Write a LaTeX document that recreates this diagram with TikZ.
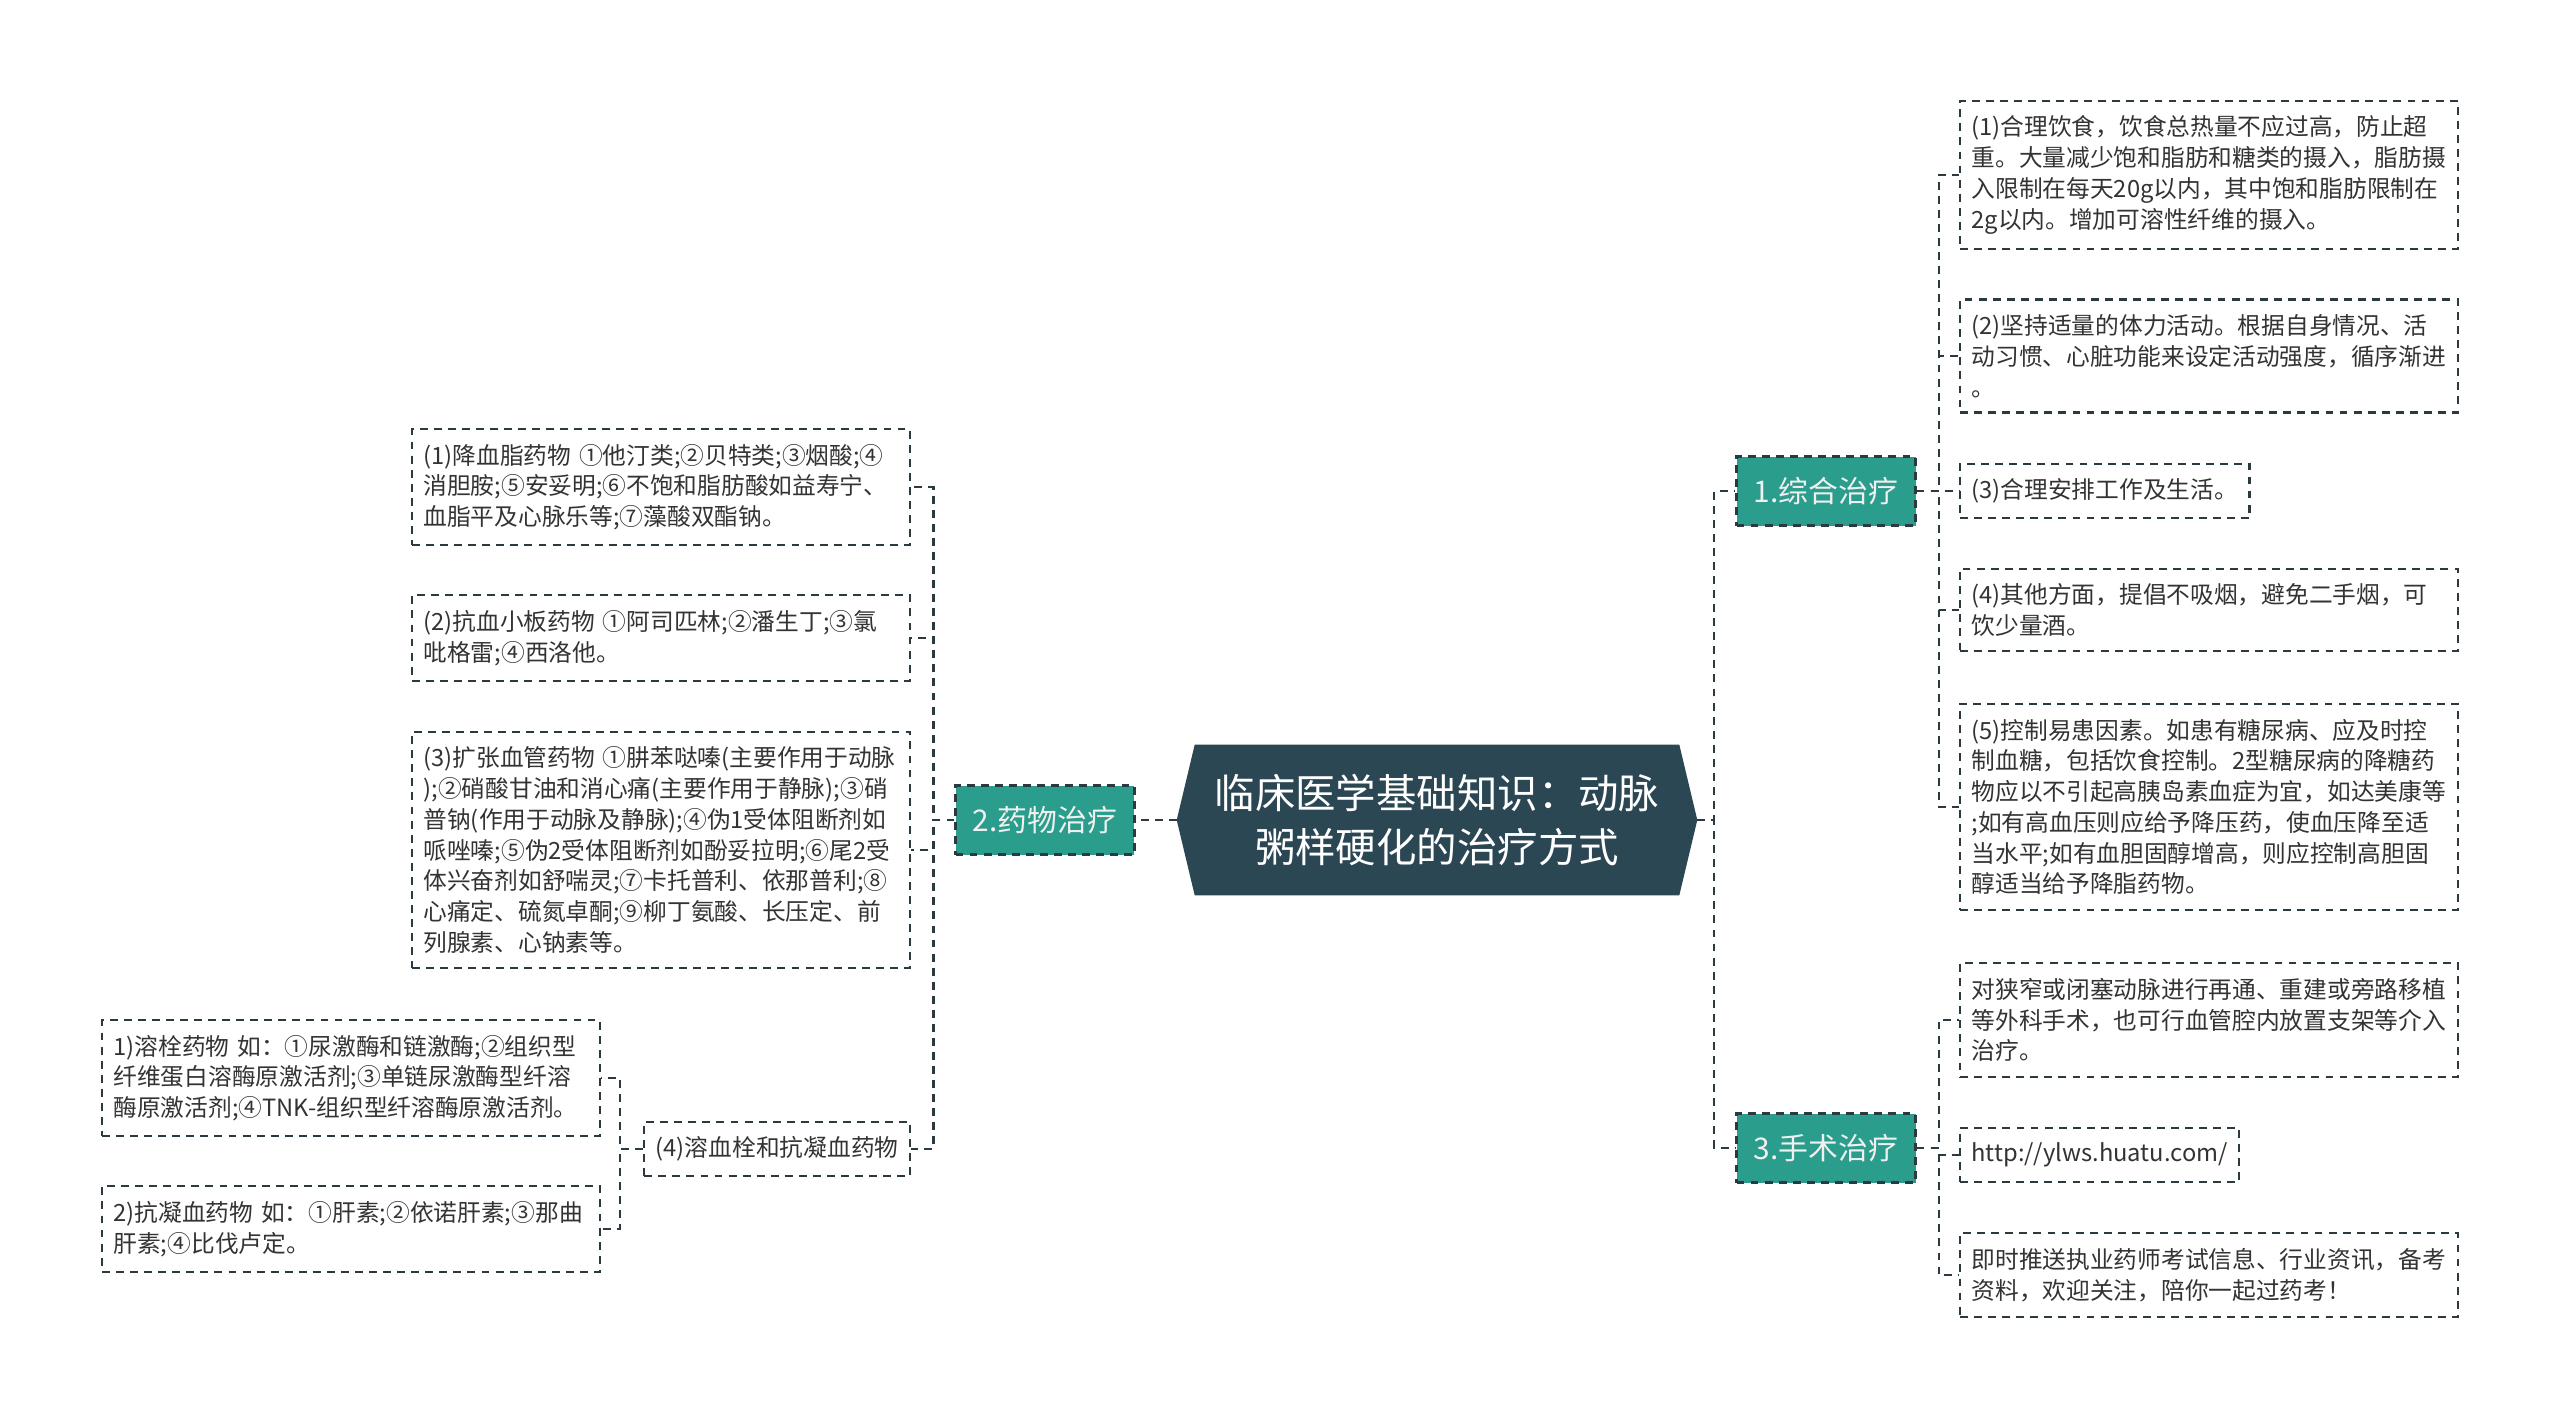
\documentclass[tikz,border=0pt]{standalone}
\usepackage{fontspec}
\setmainfont{Noto Sans CJK SC}
\usepackage{tikz}
\usetikzlibrary{backgrounds}
\definecolor{rootc}{HTML}{2B4753}
\definecolor{tealc}{HTML}{2A9D8C}
\definecolor{linec}{HTML}{2B3A40}
\definecolor{textc}{HTML}{333333}

\begin{document}
\begin{tikzpicture}[x=0.02cm,y=-0.02cm,
  link/.style={draw=linec,line width=1.2pt,dash pattern=on 4.5pt off 3.5pt},
  root/.style={text=white,align=center,font={\fontsize{23}{31}\selectfont},
    minimum width=10.4cm,minimum height=3cm},
  branch/.style={link,fill=tealc,text=white!94!black,font={\fontsize{17}{20}\selectfont},
    minimum width=3.58cm,minimum height=1.38cm},
  leaf/.style={link,fill=white,text=textc,align=left,font={\fontsize{13.5}{17.5}\selectfont},
    inner xsep=0.23cm,inner ysep=0.3cm},
  wide/.style={leaf,text width=9.5cm}]
          \useasboundingbox (0,0) rectangle (2560,1421);
          \node[root] (root) at (1437,820) {临床医学基础知识：动脉\\粥样硬化的治疗方式};
          \begin{scope}[on background layer]
          \fill[white] (0,0) rectangle (2560,1421);
          \fill[rootc] (root.west) -- ([xshift=.36cm]root.north west) -- ([xshift=-.36cm]root.north east)
          -- (root.east) -- ([xshift=-.36cm]root.south east) -- ([xshift=.36cm]root.south west) -- cycle;
          \end{scope}
          \node[branch] (n1) at (1826,491) {1.综合治疗};
          \node[branch] (n2) at (1045,820) {2.药物治疗};
          \node[branch] (n3) at (1826,1148) {3.手术治疗};
          \node[wide,anchor=west] (c1) at (1959,175) {(1)合理饮食，饮食总热量不应过高，防止超\\重。大量减少饱和脂肪和糖类的摄入，脂肪摄\\入限制在每天20g以内，其中饱和脂肪限制在\\2g以内。增加可溶性纤维的摄入。};
          \node[wide,anchor=west] (c2) at (1959,356) {(2)坚持适量的体力活动。根据自身情况、活\\动习惯、心脏功能来设定活动强度，循序渐进\\。};
          \node[leaf,anchor=west] (c3) at (1959,491) {(3)合理安排工作及生活。};
          \node[wide,anchor=west] (c4) at (1959,610) {(4)其他方面，提倡不吸烟，避免二手烟，可\\饮少量酒。};
          \node[wide,anchor=west] (c5) at (1959,807) {(5)控制易患因素。如患有糖尿病、应及时控\\制血糖，包括饮食控制。2型糖尿病的降糖药\\物应以不引起高胰岛素血症为宜，如达美康等\\;如有高血压则应给予降压药，使血压降至适\\当水平;如有血胆固醇增高，则应控制高胆固\\醇适当给予降脂药物。};
          \node[wide,anchor=west] (d1) at (1959,1020) {对狭窄或闭塞动脉进行再通、重建或旁路移植\\等外科手术，也可行血管腔内放置支架等介入\\治疗。};
          \node[leaf,anchor=west] (d2) at (1959,1155) {http://ylws.huatu.com/};
          \node[wide,anchor=west] (d3) at (1959,1275) {即时推送执业药师考试信息、行业资讯，备考\\资料，欢迎关注，陪你一起过药考！};
          \node[wide,anchor=east] (l1) at (911,487) {(1)降血脂药物 ①他汀类;②贝特类;③烟酸;④\\消胆胺;⑤安妥明;⑥不饱和脂肪酸如益寿宁、\\血脂平及心脉乐等;⑦藻酸双酯钠。};
          \node[wide,anchor=east] (l2) at (911,638) {(2)抗血小板药物 ①阿司匹林;②潘生丁;③氯\\吡格雷;④西洛他。};
          \node[wide,anchor=east] (l3) at (911,850) {(3)扩张血管药物 ①肼苯哒嗪(主要作用于动脉\\);②硝酸甘油和消心痛(主要作用于静脉);③硝\\普钠(作用于动脉及静脉);④伪1受体阻断剂如\\哌唑嗪;⑤伪2受体阻断剂如酚妥拉明;⑥尾2受\\体兴奋剂如舒喘灵;⑦卡托普利、依那普利;⑧\\心痛定、硫氮卓酮;⑨柳丁氨酸、长压定、前\\列腺素、心钠素等。};
          \node[leaf,anchor=east] (l4) at (911,1149) {(4)溶血栓和抗凝血药物};
          \node[wide,anchor=east] (m1) at (601,1078) {1)溶栓药物 如：①尿激酶和链激酶;②组织型\\纤维蛋白溶酶原激活剂;③单链尿激酶型纤溶\\酶原激活剂;④TNK-组织型纤溶酶原激活剂。};
          \node[wide,anchor=east] (m2) at (601,1229) {2)抗凝血药物 如：①肝素;②依诺肝素;③那曲\\肝素;④比伐卢定。};
          \draw[link] (root.west) -- (n2.east);
          \foreach \b in {n1,n3}{
          \draw[link] (root.east) -- ++(17,0) |- (\b.west);
          }
          \foreach \c in {c1,c2,c3,c4,c5}{
          \draw[link] (n1.east) -- ++(22,0) |- (\c.west);
          }
          \foreach \c in {d1,d2,d3}{
          \draw[link] (n3.east) -- ++(22,0) |- (\c.west);
          }
          \foreach \c in {l1,l2,l3,l4}{
          \draw[link] (n2.west) -- ++(-21,0) |- (\c.east);
          }
          \foreach \c in {m1,m2}{
          \draw[link] (l4.west) -- ++(-23,0) |- (\c.east);
          }
        \end{tikzpicture}
\end{document}
